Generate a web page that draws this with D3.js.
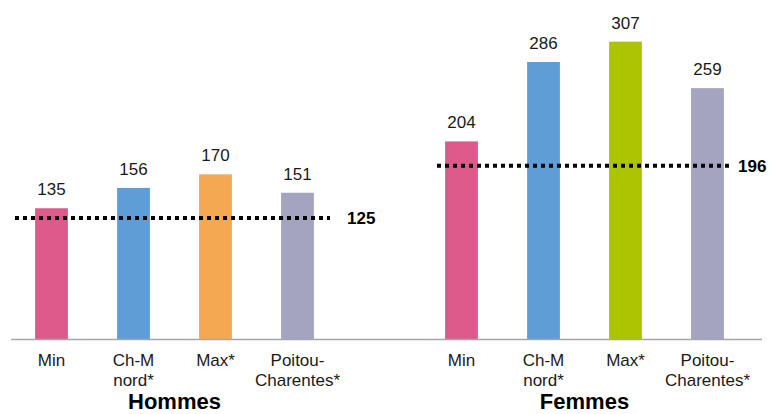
<!DOCTYPE html>
<html>
<head>
<meta charset="utf-8">
<script src="https://cdn.jsdelivr.net/npm/d3@7"></script>
<style>
  body { margin: 0; background: #fff; }
  text { font-family: "Liberation Sans", Arial, sans-serif; }
</style>
</head>
<body>
<svg width="769" height="414"></svg>
<script>
const svg = d3.select("svg");

// data
const groups = ["Hommes", "Femmes"];
const categories = ["Min", "Ch-M nord*", "Max*", "Poitou-Charentes*"];
const categoryLines = [["Min"], ["Ch-M", "nord*"], ["Max*"], ["Poitou-", "Charentes*"]];
const hommesValues = [135, 156, 170, 151];
const femmesValues = [204, 286, 307, 259];
const refLabels = [125, 196];      // values printed next to dotted lines
const refLevels = [125, 179];      // where the dotted lines sit in the picture
const hommesColors = ["#dd5a8b", "#5e9dd6", "#f4a852", "#a5a4c0"];
const femmesColors = ["#dd5a8b", "#5e9dd6", "#acc402", "#a5a4c0"];

const baseline = 339;

// 9 slots: 4 hommes, a gap, 4 femmes
const slots = [];
groups.forEach((g, gi) => {
  categories.forEach((c, ci) => slots.push(g + "|" + c));
  if (gi === 0) slots.push("gap");
});

const x = d3.scaleBand().domain(slots).range([10.5, 748.5]).paddingInner(0.6).paddingOuter(0.3);
const y = d3.scaleLinear().domain([0, 350]).range([baseline, 0]);

const rows = [];
groups.forEach((g, gi) => {
  const vals = gi === 0 ? hommesValues : femmesValues;
  const cols = gi === 0 ? hommesColors : femmesColors;
  categories.forEach((c, ci) => rows.push({ group: g, gi, ci, key: g + "|" + c, value: vals[ci], color: cols[ci] }));
});

const cx = k => x(k) + x.bandwidth() / 2;

// bars
svg.selectAll(".bar")
  .data(rows)
  .enter()
  .append("rect")
  .attr("class", "bar")
  .attr("x", d => x(d.key))
  .attr("y", d => y(d.value))
  .attr("width", x.bandwidth())
  .attr("height", d => y(0) - y(d.value))
  .attr("fill", d => d.color);

// value labels
svg.selectAll(".val")
  .data(rows)
  .enter()
  .append("text")
  .attr("x", d => cx(d.key))
  .attr("y", d => y(d.value) - 13)
  .attr("text-anchor", "middle")
  .style("font-size", "17px")
  .attr("fill", "#1a1a1a")
  .text(d => d.value);

// axis line
svg.append("line")
  .attr("x1", 11).attr("x2", 762)
  .attr("y1", y(0) + 0.5).attr("y2", y(0) + 0.5)
  .attr("stroke", "#a6a6a6")
  .attr("stroke-width", 1.5);

// category labels
svg.selectAll(".cat")
  .data(rows)
  .enter()
  .append("text")
  .attr("text-anchor", "middle")
  .style("font-size", "17px")
  .attr("fill", "#1a1a1a")
  .each(function(d) {
    d3.select(this).selectAll("tspan")
      .data(categoryLines[d.ci])
      .enter()
      .append("tspan")
      .attr("x", cx(d.key))
      .attr("y", (t, i) => 366 + i * 19.5)
      .text(t => t);
  });

// group labels
groups.forEach((g, gi) => {
  const first = x(g + "|" + categories[0]);
  const last = x(g + "|" + categories[3]) + x.bandwidth();
  svg.append("text")
    .attr("x", (first + last) / 2)
    .attr("y", 409)
    .attr("text-anchor", "middle")
    .style("font-weight", "bold")
    .style("font-size", "22px")
    .attr("fill", "#000")
    .text(g);
});

// dotted reference lines
const refX = [[15, 330], [437, 733]];
groups.forEach((g, gi) => {
  const ly = y(refLevels[gi]);
  svg.append("line")
    .attr("x1", refX[gi][0]).attr("x2", refX[gi][1])
    .attr("y1", ly).attr("y2", ly)
    .attr("stroke", "#000")
    .attr("stroke-width", 4)
    .attr("stroke-dasharray", "4,4");
  svg.append("text")
    .attr("x", gi === 0 ? 347 : 738)
    .attr("y", ly + 6)
    .style("font-size", "17px")
    .style("font-weight", "bold")
    .attr("fill", "#000")
    .text(refLabels[gi]);
});
</script>
</body>
</html>
